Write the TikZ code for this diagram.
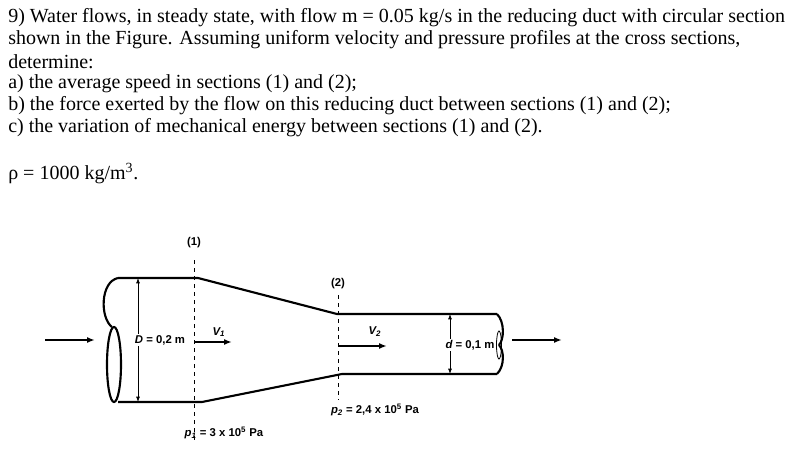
\documentclass[tikz,border=0pt]{standalone}
\usepackage{fontspec}
\setmainfont{Liberation Serif}
\newfontfamily\lab{Liberation Sans}
\usetikzlibrary{arrows.meta}
\begin{document}
\begin{tikzpicture}[x=0.75pt,y=-0.75pt,
  txt/.style={anchor=west,inner sep=0pt,font=\fontsize{15}{17}\selectfont},
  lbl/.style={inner sep=0pt,font=\lab\bfseries\fontsize{8.5}{10}\selectfont},
  wall/.style={line width=1.6pt},
  secline/.style={dashed,thin},
  flow/.style={-{Latex[length=6pt]},line width=1.3pt},
  dim/.style={{Latex[length=4pt]}-{Latex[length=4pt]},semithick}]
\useasboundingbox (0,0) rectangle (793,453);
\node[txt] (t1) at (8,18) {9) Water flows, in steady state, with flow m = 0.05 kg/s in the reducing duct with circular section};
\node[txt] (t2) at (8,40) {shown in the Figure. Assuming uniform velocity and pressure profiles at the cross sections,};
\node[txt] (t3) at (8,62) {determine:};
\node[txt] (t4) at (8,84) {a) the average speed in sections (1) and (2);};
\node[txt] (t5) at (8,106) {b) the force exerted by the flow on this reducing duct between sections (1) and (2);};
\node[txt] (t6) at (8,128) {c) the variation of mechanical energy between sections (1) and (2).};
\node[txt] (t7) at (8,174) {ρ = 1000 kg/m\textsuperscript{3}.};
% duct
\draw[wall] (118,278) -- (198,278) -- (337,314) -- (497,314);
\draw[wall] (118,402) -- (202,402) -- (342,374) -- (497,374);
\draw[wall] (118,278) .. controls (100,282) and (100,318) .. (112,327);
\draw[wall] (114,364.5) ellipse (7 and 37.5);
\draw[wall] (497,314) .. controls (505,322) and (504,340) .. (499,345);
\draw[wall] (497,374) .. controls (505,366) and (504,350) .. (499,345);
\draw[semithick] (499,345) ellipse (2.5 and 14);
% sections
\draw[secline] (194,260) -- (194,440);
\draw[secline] (338,295) -- (338,400);
\node[lbl] (s1) at (194,243) {(1)};
\node[lbl] (s2) at (338,284) {(2)};
% flow arrows
\draw[flow] (45,340) -- (95,340);
\draw[flow] (512,340) -- (562,340);
\draw[flow] (195,342) -- (232,342);
\draw[flow] (339,346) -- (387,346);
\node[lbl] (v1) at (219,332) {\itshape V\textsubscript{1}};
\node[lbl] (v2) at (375,332) {\itshape V\textsubscript{2}};
% dims
\draw[dim] (138,278) -- (138,402);
\node[lbl,fill=white,inner sep=1pt] (D) at (160,340) {\itshape D\upshape\ = 0,2 m};
\draw[dim] (450,314) -- (450,374);
\node[lbl,fill=white,inner sep=1pt] (d) at (470,345) {\itshape d\upshape\ = 0,1 m};
\node[lbl] (p1) at (224,433) {\itshape p\textsubscript{1}\upshape\ = 3 x 10\textsuperscript{5} Pa};
\node[lbl] (p2) at (375,410) {\itshape p\textsubscript{2}\upshape\ = 2,4 x 10\textsuperscript{5} Pa};
\end{tikzpicture}
\end{document}
